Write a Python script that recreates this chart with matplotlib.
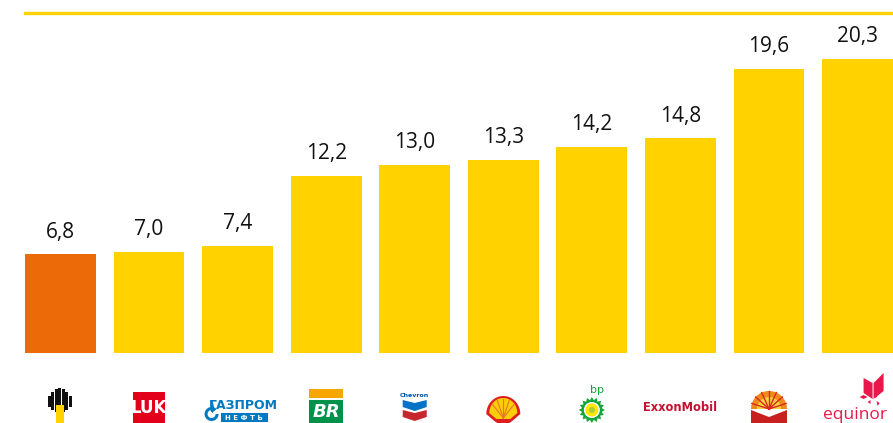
import numpy as np
import matplotlib
matplotlib.use('Agg')
import matplotlib.pyplot as plt
from matplotlib.patches import Rectangle, Polygon, Ellipse
from matplotlib.lines import Line2D

companies = ['Роснефть', 'Лукойл', 'Газпром нефть', 'Petrobras', 'Chevron',
             'Shell', 'BP', 'ExxonMobil', 'CNPC', 'Equinor']
values = [6.8, 7.0, 7.4, 12.2, 13.0, 13.3, 14.2, 14.8, 19.6, 20.3]
labels = ['6,8', '7,0', '7,4', '12,2', '13,0', '13,3', '14,2', '14,8', '19,6', '20,3']
highlight = 'Роснефть'

YELLOW = '#FFD200'
ORANGE = '#EC6A08'

W, H = 893, 423
fig = plt.figure(figsize=(W / 100, H / 100), dpi=100)
fig.patch.set_facecolor('white')

# main bar axes: baseline at y=353px, top line at y=13px
ax = fig.add_axes([25 / W, (H - 353) / H, 868 / W, 340 / H])
x = np.arange(len(companies))
colors = [ORANGE if c == highlight else YELLOW for c in companies]
bars = ax.bar(x, values, width=0.8, color=colors, edgecolor='none')
ax.set_xlim(-0.4, len(companies) - 0.6)
ax.set_ylim(0, 23.45)
ax.axis('off')

for b, lab in zip(bars, labels):
    ax.annotate(lab, (b.get_x() + b.get_width() / 2, b.get_height()),
                xytext=(0, 12), textcoords='offset points', ha='center',
                va='baseline', fontsize=15, family='Open Sans', color='#111111')

# yellow rule on top
fig.add_artist(Line2D([25 / W, 1], [(H - 13) / H, (H - 13) / H], color=YELLOW,
                      lw=2.4, transform=fig.transFigure))

# logo strip, x in bar units, y in pixels from bottom of figure
lax = fig.add_axes([25 / W, 0, 868 / W, 62 / H])
lax.set_xlim(-0.4, len(companies) - 0.6)
lax.set_ylim(0, 62)
lax.axis('off')
U = 868 / 9.8  # pixels per bar unit


def px(d):
    return d / U


def poly(cx, pts, color, **kw):
    lax.add_patch(Polygon([(cx + px(a), b) for a, b in pts], closed=True,
                          color=color, lw=0, **kw))


def rect(cx, x0, y0, w, h, color):
    lax.add_patch(Rectangle((cx + px(x0), y0), px(w), h, color=color, lw=0))


def ell(cx, dx, y, r, color):
    lax.add_patch(Ellipse((cx + px(dx), y), px(2 * r), 2 * r, color=color, lw=0))


# Rosneft
c = x[0]
for dx, top, bot in [(-11, 27, 16), (-7.5, 31, 13), (-4, 34, 11), (-0.5, 35, 11),
                     (3, 34, 11), (6.5, 31, 13), (10, 27, 16)]:
    rect(c, dx - 1.5, bot, 3.0, top - bot, '#111111')
rect(c, -4, 0, 8, 18, '#FFD200')

# Lukoil
c = x[1]
rect(c, -16, 0, 32, 31, '#E3001B')
lax.text(c, 15, 'LUK', ha='center', va='center', color='white', fontsize=12,
         fontweight='bold', family='DejaVu Sans Condensed')

# Gazprom neft
c = x[2]
BLUE = '#0079C2'
t = np.linspace(0.25 * np.pi, 2.0 * np.pi, 40)
ring = [(-26 + 7 * np.cos(a), 9 + 7 * np.sin(a)) for a in t]
ring += [(-26 + 4 * np.cos(a), 9 + 4 * np.sin(a)) for a in t[::-1]]
poly(c, ring, BLUE)
poly(c, [(-27, 12), (-25, 23), (-23, 13), (-25, 10)], BLUE)
lax.text(c + px(6), 17.5, 'ГАЗПРОМ', ha='center', va='center', color=BLUE,
         fontsize=9, fontweight='bold', family='DejaVu Sans Condensed')
rect(c, -17, 1, 47, 9, BLUE)
lax.text(c + px(6.5), 5.5, 'Н Е Ф Т Ь', ha='center', va='center', color='white',
         fontsize=5, fontweight='bold')

# Petrobras
c = x[3]
rect(c, -17, 25, 34, 9, '#F7A600')
rect(c, -17, 0, 34, 23, '#00924A')
lax.text(c, 11, 'BR', ha='center', va='center', color='white', fontsize=13,
         fontweight='bold', style='italic')

# Chevron
c = x[4]
lax.text(c, 27.5, 'Chevron', ha='center', va='center', color='#0054A4', fontsize=4.5,
         fontweight='bold')
poly(c, [(-12, 23), (0, 20), (12, 23), (12, 16), (0, 12), (-12, 16)], '#0073C6')
poly(c, [(-12, 13), (0, 10), (12, 13), (12, 6), (0, 2), (-12, 6)], '#C8262E')

# Shell
c = x[5]
t = np.linspace(0, np.pi, 40)
outer = [(17 * np.cos(a), 9 + 18 * np.sin(a)) for a in t] + [(-9, 2), (-6, 0), (6, 0), (9, 2)]
poly(c, outer, '#DD1D21')
inner = [(14 * np.cos(a), 10 + 15 * np.sin(a)) for a in t] + [(-7, 4), (7, 4)]
poly(c, inner, '#FBCE07')
for a in np.linspace(0.2 * np.pi, 0.8 * np.pi, 5):
    lax.plot([c, c + px(13 * np.cos(a))], [5, 10 + 14 * np.sin(a)], color='#E8742A', lw=0.8)

# BP
c = x[6]
t = np.linspace(0, 2 * np.pi, 33)
star = [((13 if k % 2 == 0 else 10) * np.cos(a), 13 + (13 if k % 2 == 0 else 10) * np.sin(a))
        for k, a in enumerate(t[:-1])]
poly(c, star, '#13A538')
ell(c, 0, 13, 8, '#FFFFFF')
ell(c, 0, 13, 6.5, '#FFE600')
ell(c, 0, 13, 3, '#A9CF38')
lax.text(c + px(5), 33, 'bp', ha='center', va='center', color='#13A538', fontsize=8)

# ExxonMobil
c = x[7]
lax.text(c, 16, 'ExxonMobil', ha='center', va='center', color='#C8102E', fontsize=8.3,
         fontweight='bold', family='DejaVu Sans Condensed')

# CNPC
c = x[8]
t = np.linspace(0, np.pi, 40)
poly(c, [(18 * np.cos(a), 14 + 18 * np.sin(a)) for a in t], '#F08A1C')
poly(c, [(12 * np.cos(a), 14 + 12 * np.sin(a)) for a in t], '#FFD23F')
for a in np.linspace(0.1 * np.pi, 0.9 * np.pi, 7):
    lax.plot([c, c + px(18 * np.cos(a))], [14, 14 + 18 * np.sin(a)], color='#D42A1E', lw=1.0)
poly(c, [(-18, 13), (0, 6), (18, 13), (18, 0), (-18, 0)], '#C8201E')

# Equinor
c = x[9]
RED = '#E8194A'
lax.text(c - px(3), 8, 'equinor', ha='center', va='center', color=RED, fontsize=12.5,
         family='Open Sans')
poly(c, [(6, 45), (15, 40), (15, 24), (6, 30)], RED)
poly(c, [(16, 40), (26, 50), (26, 32), (16, 24)], RED)
poly(c, [(2, 26), (6, 28), (10, 26), (6, 24)], RED)
poly(c, [(10, 21), (13, 23), (13, 19)], RED)
poly(c, [(19, 22), (22, 20), (20, 17)], RED)
poly(c, [(17, 28), (20, 27), (18, 25)], RED)

fig.savefig('out.png', dpi=100, facecolor='white')
